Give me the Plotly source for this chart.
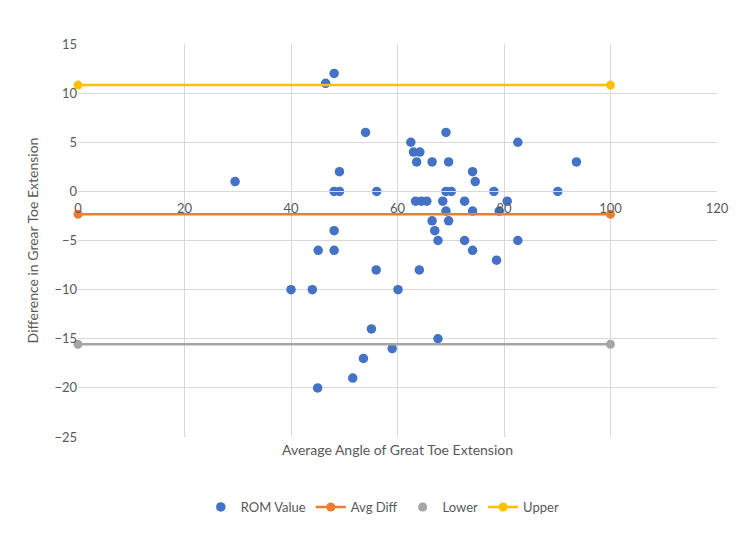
import plotly.graph_objects as go

# ROM values (average angle vs difference)
avg_angle = [29.5, 46.5, 48.1, 54.0, 62.5, 63.0, 64.2, 63.6, 66.5, 69.6,
             69.1, 82.6, 93.6, 74.1, 74.6, 49.1, 48.1, 49.1, 56.1, 69.1,
             70.1, 78.1, 90.1, 63.4, 64.5, 65.5, 68.5, 72.6, 80.6, 69.1,
             74.1, 79.1, 66.5, 69.6, 48.1, 67.0, 67.6, 72.6, 82.6, 45.1,
             48.1, 74.1, 78.6, 56.0, 64.1, 40.0, 44.0, 60.1, 55.1, 67.6,
             59.0, 53.6, 51.6, 45.0]
difference = [1, 11, 12, 6, 5, 4, 4, 3, 3, 3,
              6, 5, 3, 2, 1, 2, 0, 0, 0, 0,
              0, 0, 0, -1, -1, -1, -1, -1, -1, -2,
              -2, -2, -3, -3, -4, -4, -5, -5, -5, -6,
              -6, -6, -7, -8, -8, -10, -10, -10, -14, -15,
              -16, -17, -19, -20]

line_x = [0, 100]
avg_diff = -2.34
lower = -15.56
upper = 10.82

x_ticks = [0, 20, 40, 60, 80, 100, 120]

blue = '#4472C4'
orange = '#ED7D31'
gray = '#A5A5A5'
yellow = '#FFC000'
text_col = '#595959'
grid_col = '#D9D9D9'

fig = go.Figure()

fig.add_trace(go.Scatter(x=avg_angle, y=difference, mode='markers', name='ROM Value',
                         marker=dict(color=blue, size=9.5)))
fig.add_trace(go.Scatter(x=line_x, y=[avg_diff, avg_diff], mode='lines+markers', name='Avg Diff',
                         cliponaxis=False,
                         line=dict(color=orange, width=2.5), marker=dict(color=orange, size=9)))
# lower line drawn separately so legend shows only a dot, like the original
fig.add_trace(go.Scatter(x=line_x, y=[lower, lower], mode='lines+markers', showlegend=False,
                         cliponaxis=False,
                         line=dict(color=gray, width=2.5), marker=dict(color=gray, size=9)))
fig.add_trace(go.Scatter(x=[None], y=[None], mode='markers', name='Lower',
                         marker=dict(color=gray, size=9)))
fig.add_trace(go.Scatter(x=line_x, y=[upper, upper], mode='lines+markers', name='Upper',
                         cliponaxis=False,
                         line=dict(color=yellow, width=2.5), marker=dict(color=yellow, size=9)))
# dummy trace so the tick-label axis at y=0 gets drawn
fig.add_trace(go.Scatter(x=[None], y=[None], xaxis='x2', showlegend=False, hoverinfo='skip'))

fig.update_layout(
    width=750, height=533,
    margin=dict(l=70, r=41, t=36, b=104),
    paper_bgcolor='white', plot_bgcolor='white',
    font=dict(family='Lato, Open Sans, sans-serif', size=13, color=text_col),
    xaxis=dict(range=[0, 120], tickvals=x_ticks, showticklabels=False, automargin=False,
               showgrid=True, gridcolor=grid_col, gridwidth=1,
               zeroline=False, showline=False,
               title=dict(text='Average Angle of Great Toe Extension',
                          font=dict(size=14, color=text_col), standoff=8)),
    xaxis2=dict(overlaying='x', matches='x', anchor='free', position=0.625, automargin=False,
                tickvals=x_ticks, showgrid=False, zeroline=False,
                showline=True, linecolor=grid_col, ticks='', ticklabelstandoff=5,
                tickfont=dict(size=13, color=text_col)),
    yaxis=dict(range=[-25, 15], dtick=5, showgrid=True, gridcolor=grid_col, gridwidth=1,
               zeroline=False, showline=False, ticks='', automargin=False,
               tickfont=dict(size=13, color=text_col),
               title=dict(text='Difference in Grear Toe Extension',
                          font=dict(size=14, color=text_col), standoff=12)),
    legend=dict(orientation='h', x=0.477, xanchor='center', y=-0.14, yanchor='top',
                font=dict(size=13, color=text_col), itemwidth=30),
    showlegend=True,
)

fig.write_html("out.html")
